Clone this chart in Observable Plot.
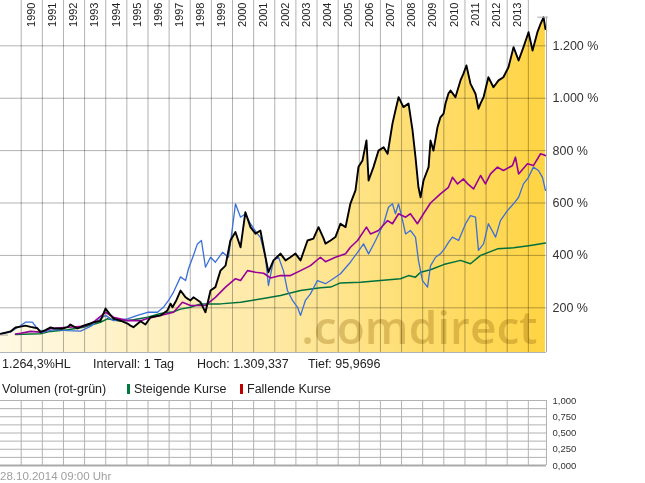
<!DOCTYPE html>
<html>
<head>
<meta charset="utf-8">
<script src="https://cdn.jsdelivr.net/npm/d3@7"></script>
<script src="https://cdn.jsdelivr.net/npm/@observablehq/plot@0.6"></script>
<style>
  html, body { margin: 0; padding: 0; background: #fff; }
  #wrap { position: relative; width: 645px; height: 483px; overflow: hidden; font-family: "Liberation Sans", Arial, sans-serif; background: #fff; }
  .abs { position: absolute; white-space: nowrap; line-height: 1; }
  .info { font-size: 12.5px; color: #222; }
  .bar { position: absolute; width: 3px; height: 10px; }
</style>
</head>
<body>
<div id="wrap"></div>
<script>
// ---------- data (decimal year, value in %) ----------
const seriesBlack = [
[1989.02,100],[1989.49,110],[1989.73,125],[1989.97,128],[1990.20,132],[1990.44,127],[1990.77,122],[1990.91,107],[1991.15,115],[1991.39,125],[1991.53,122],[1991.90,120],[1992.19,126],[1992.33,136],[1992.66,121],[1992.95,132],[1993.28,140],[1993.42,145],[1993.75,150],[1993.99,197],[1994.20,175],[1994.37,159],[1994.70,151],[1995.03,140],[1995.17,132],[1995.31,126],[1995.65,149],[1995.88,136],[1996.12,164],[1996.59,171],[1996.92,190],[1997.07,216],[1997.16,202],[1997.35,230],[1997.54,266],[1997.78,240],[1997.87,235],[1998.01,228],[1998.15,240],[1998.49,221],[1998.72,183],[1998.96,266],[1999.19,279],[1999.43,342],[1999.67,361],[1999.90,457],[2000.14,489],[2000.38,431],[2000.61,565],[2000.85,508],[2001.09,483],[2001.32,495],[2001.56,393],[2001.70,336],[2001.94,381],[2002.27,407],[2002.51,381],[2002.74,393],[2002.98,407],[2003.22,381],[2003.55,457],[2003.83,464],[2004.07,508],[2004.31,465],[2004.40,445],[2004.64,457],[2004.87,470],[2005.11,521],[2005.35,508],[2005.58,598],[2005.82,648],[2005.96,737],[2006.15,762],[2006.34,839],[2006.44,686],[2006.67,737],[2006.91,800],[2007.15,813],[2007.34,788],[2007.57,903],[2007.71,953],[2007.86,1004],[2008.09,966],[2008.33,980],[2008.52,877],[2008.66,775],[2008.80,660],[2008.90,622],[2009.04,686],[2009.28,737],[2009.37,839],[2009.51,800],[2009.70,889],[2009.84,927],[2009.99,941],[2010.08,980],[2010.22,1018],[2010.32,1029],[2010.55,1004],[2010.79,1068],[2010.93,1094],[2011.07,1125],[2011.26,1056],[2011.50,1017],[2011.64,960],[2011.74,980],[2011.88,1004],[2012.11,1080],[2012.35,1042],[2012.59,1068],[2012.82,1080],[2013.06,1118],[2013.30,1195],[2013.54,1144],[2013.77,1195],[2014.01,1252],[2014.20,1182],[2014.43,1252],[2014.58,1284],[2014.72,1309],[2014.81,1264]
];
const seriesPurple = [
[1989.73,100],[1989.97,103],[1990.44,110],[1990.91,107],[1991.39,121],[1992.19,126],[1992.95,129],[1993.42,145],[1993.99,183],[1994.37,164],[1995.03,151],[1995.65,151],[1995.98,159],[1996.59,171],[1997.21,183],[1997.63,221],[1998.01,209],[1998.15,209],[1998.72,209],[1999.19,240],[1999.67,279],[2000.14,311],[2000.38,304],[2000.71,342],[2001.09,336],[2001.47,332],[2001.80,314],[2002.27,323],[2002.74,323],[2003.22,342],[2003.69,361],[2004.16,393],[2004.40,376],[2004.87,393],[2005.35,406],[2005.58,431],[2005.92,457],[2006.34,508],[2006.53,482],[2006.91,495],[2007.34,533],[2007.57,521],[2007.86,559],[2008.19,546],[2008.42,559],[2008.75,521],[2009.04,559],[2009.37,600],[2009.84,635],[2010.22,660],[2010.41,698],[2010.65,673],[2010.93,692],[2011.12,674],[2011.41,654],[2011.74,705],[2011.97,673],[2012.21,711],[2012.54,737],[2012.82,724],[2013.25,743],[2013.39,775],[2013.54,711],[2013.96,750],[2014.24,743],[2014.58,788],[2014.81,781]
];
const seriesBlue = [
[1989.02,101],[1989.49,107],[1989.73,120],[1989.97,132],[1990.20,145],[1990.53,145],[1990.77,120],[1991.05,107],[1991.53,117],[1992.19,113],[1992.81,111],[1993.28,129],[1993.75,158],[1993.99,171],[1994.37,151],[1995.03,158],[1995.50,171],[1995.98,183],[1996.45,183],[1996.73,202],[1996.97,228],[1997.21,260],[1997.54,318],[1997.78,304],[1997.92,350],[1998.15,400],[1998.34,444],[1998.53,457],[1998.72,355],[1998.96,393],[1999.19,374],[1999.53,412],[1999.81,393],[2000.00,508],[2000.14,597],[2000.38,546],[2000.61,559],[2000.85,521],[2001.18,482],[2001.32,469],[2001.56,393],[2001.70,285],[2001.94,381],[2002.18,393],[2002.41,342],[2002.60,266],[2002.84,228],[2003.08,202],[2003.22,171],[2003.45,228],[2003.69,253],[2004.02,304],[2004.40,292],[2004.64,304],[2005.11,330],[2005.58,374],[2005.92,412],[2006.20,444],[2006.44,406],[2006.77,457],[2007.15,521],[2007.38,584],[2007.57,597],[2007.71,559],[2007.86,597],[2008.05,533],[2008.19,482],[2008.42,495],[2008.66,470],[2008.80,381],[2008.99,304],[2009.23,279],[2009.37,360],[2009.61,393],[2009.84,406],[2010.08,431],[2010.22,450],[2010.41,470],[2010.70,457],[2011.03,521],[2011.26,552],[2011.50,546],[2011.64,419],[2011.88,444],[2012.11,521],[2012.45,470],[2012.68,533],[2013.01,571],[2013.30,597],[2013.54,622],[2013.77,673],[2014.01,698],[2014.24,737],[2014.48,724],[2014.67,698],[2014.81,648]
];
const seriesGreen = [
[1989.73,98],[1990.44,100],[1990.91,101],[1991.39,110],[1992.19,116],[1992.95,126],[1993.75,145],[1994.08,158],[1994.70,149],[1995.31,154],[1995.98,164],[1996.59,178],[1997.21,185],[1997.54,195],[1998.01,202],[1998.49,215],[1999.43,215],[2000.38,221],[2001.32,234],[2002.27,247],[2003.22,266],[2004.16,277],[2004.64,279],[2005.11,295],[2006.06,298],[2007.00,304],[2007.95,311],[2008.33,323],[2008.66,317],[2008.90,336],[2009.37,345],[2009.99,365],[2010.79,381],[2011.26,368],[2011.74,400],[2012.54,425],[2013.30,429],[2014.10,438],[2014.81,447]
];
const yearLines = d3.range(1990, 2015);
const yearLabels = d3.range(1990, 2014);
const yTicks = [200, 400, 600, 800, 1000, 1200];
const volTicks = [0, 0.25, 0.5, 0.75, 1];
const volGrid = [0, 0.125, 0.25, 0.375, 0.5, 0.625, 0.75, 0.875, 1];
const hoch = 1309.337, tief = 95.9696;
const infoTexts = ["1.264,3%HL", "Intervall: 1 Tag", "Hoch: 1.309,337", "Tief: 95,9696"];
const legendTexts = ["Volumen (rot-grün)", "Steigende Kurse", "Fallende Kurse"];
const dateText = "28.10.2014 09:00 Uhr";
const watermark = ".comdirect";

// ---------- layout ----------
const X0 = 1989.02, X1 = 2014.86;
const yMin = 29.4, yMax = 1373;
const rows = a => a.map(([t, v]) => ({t, v}));
const black = rows(seriesBlack), purple = rows(seriesPurple), blue = rows(seriesBlue), green = rows(seriesGreen);
const fmtPct = d => d3.format(",")(d).replace(/,/g, ".") + " %";

const defs = () => {
  const d = d3.create("svg:defs");
  const g = d.append("linearGradient").attr("id", "fillGrad").attr("x1", 0).attr("x2", 1).attr("y1", 0).attr("y2", 0);
  g.append("stop").attr("offset", 0).attr("stop-color", "#fff9e4");
  g.append("stop").attr("offset", 0.5).attr("stop-color", "#fee9a4");
  g.append("stop").attr("offset", 1).attr("stop-color", "#ffd443");
  return d.node();
};

const grid = "#b2b2b2";
const main = Plot.plot({
  width: 645, height: 356,
  marginLeft: 0, marginRight: 99, marginTop: 0, marginBottom: 4,
  style: {background: "#fff", fontFamily: "Liberation Sans, Arial, sans-serif", fontSize: "12.5px", color: "#333", overflow: "visible"},
  x: {domain: [X0, X1], axis: null},
  y: {domain: [yMin, yMax], axis: "right", ticks: yTicks, tickSize: 0, tickPadding: 6, tickFormat: fmtPct, label: null},
  marks: [
    defs,
    Plot.areaY(black, {x: "t", y: "v", fill: "url(#fillGrad)", clip: true}),
    Plot.ruleY(yTicks, {stroke: grid, mixBlendMode: "multiply"}),
    Plot.ruleX(yearLines, {stroke: grid, mixBlendMode: "multiply"}),
    Plot.text([watermark], {frameAnchor: "bottom-right", textAnchor: "end", lineAnchor: "bottom", dx: -9, dy: -9,
      fontSize: 46, fontWeight: 600, fontFamily: "Open Sans", fill: "#ddd3b2", mixBlendMode: "multiply", ariaLabel: "watermark"}),
    Plot.lineY(green, {x: "t", y: "v", stroke: "#00703c", strokeWidth: 1.5}),
    Plot.lineY(blue, {x: "t", y: "v", stroke: "#3b6fd9", strokeWidth: 1.3}),
    Plot.lineY(purple, {x: "t", y: "v", stroke: "#990099", strokeWidth: 1.6}),
    Plot.lineY(black, {x: "t", y: "v", stroke: "#000", strokeWidth: 1.9}),
    Plot.text(yearLabels, {x: d => d, text: d => String(d), rotate: -90, frameAnchor: "top", textAnchor: "end", dx: 6, dy: 2, fontSize: 11, fill: "#222"}),
    Plot.ruleY([yMin], {stroke: "#b0b4bc"}),
    Plot.ruleX([X1], {y1: hoch, y2: yMin, stroke: "#a8a8a8"}),
    Plot.ruleY([hoch], {x1: 2014.45, x2: 2014.95, stroke: "#a8a8a8"}),
    Plot.ruleY([tief], {x1: X0, x2: 1989.4, stroke: "#a8a8a8"})
  ]
});
d3.select(main).select('g[aria-label="watermark"] text').attr("textLength", 212).attr("lengthAdjust", "spacingAndGlyphs");

const vol = Plot.plot({
  width: 645, height: 73,
  marginLeft: 0, marginRight: 99, marginTop: 5, marginBottom: 3,
  style: {background: "transparent", fontFamily: "Liberation Sans, Arial, sans-serif", fontSize: "9.5px", color: "#333", overflow: "visible"},
  x: {domain: [X0, X1], axis: null},
  y: {domain: [0, 1], axis: "right", ticks: volTicks, tickSize: 0, tickPadding: 6, tickFormat: d => d.toFixed(3).replace(".", ","), label: null},
  marks: [
    Plot.ruleY(volGrid, {stroke: "#b2b2b2"}),
    Plot.ruleX(yearLines, {stroke: "#b2b2b2"}),
    Plot.ruleX([X1], {stroke: "#b2b2b2"}),
    Plot.ruleY([0], {stroke: "#aaa", strokeWidth: 2})
  ]
});

const wrap = document.getElementById("wrap");
main.style.position = "absolute"; main.style.left = "0px"; main.style.top = "0px";
vol.style.position = "absolute"; vol.style.left = "0px"; vol.style.top = "395px";
wrap.appendChild(main);
wrap.appendChild(vol);

function addText(txt, left, top, cls, extra) {
  const d = document.createElement("div");
  d.className = "abs " + cls;
  d.textContent = txt;
  d.style.left = left + "px"; d.style.top = top + "px";
  if (extra) Object.assign(d.style, extra);
  wrap.appendChild(d);
}
const infoX = [2, 93, 197, 308];
infoTexts.forEach((t, i) => addText(t, infoX[i], 357.5, "info"));
addText(legendTexts[0], 2, 382.5, "info");
addText(legendTexts[1], 134, 382.5, "info");
addText(legendTexts[2], 247, 382.5, "info");
const g1 = document.createElement("div"); g1.className = "bar"; g1.style.left = "127px"; g1.style.top = "384px"; g1.style.background = "#007a3d"; wrap.appendChild(g1);
const r1 = document.createElement("div"); r1.className = "bar"; r1.style.left = "240px"; r1.style.top = "384px"; r1.style.background = "#c00000"; wrap.appendChild(r1);
addText(dateText, 0, 470.5, "", {fontSize: "11.5px", color: "#a0a0a0"});
</script>
</body>
</html>
